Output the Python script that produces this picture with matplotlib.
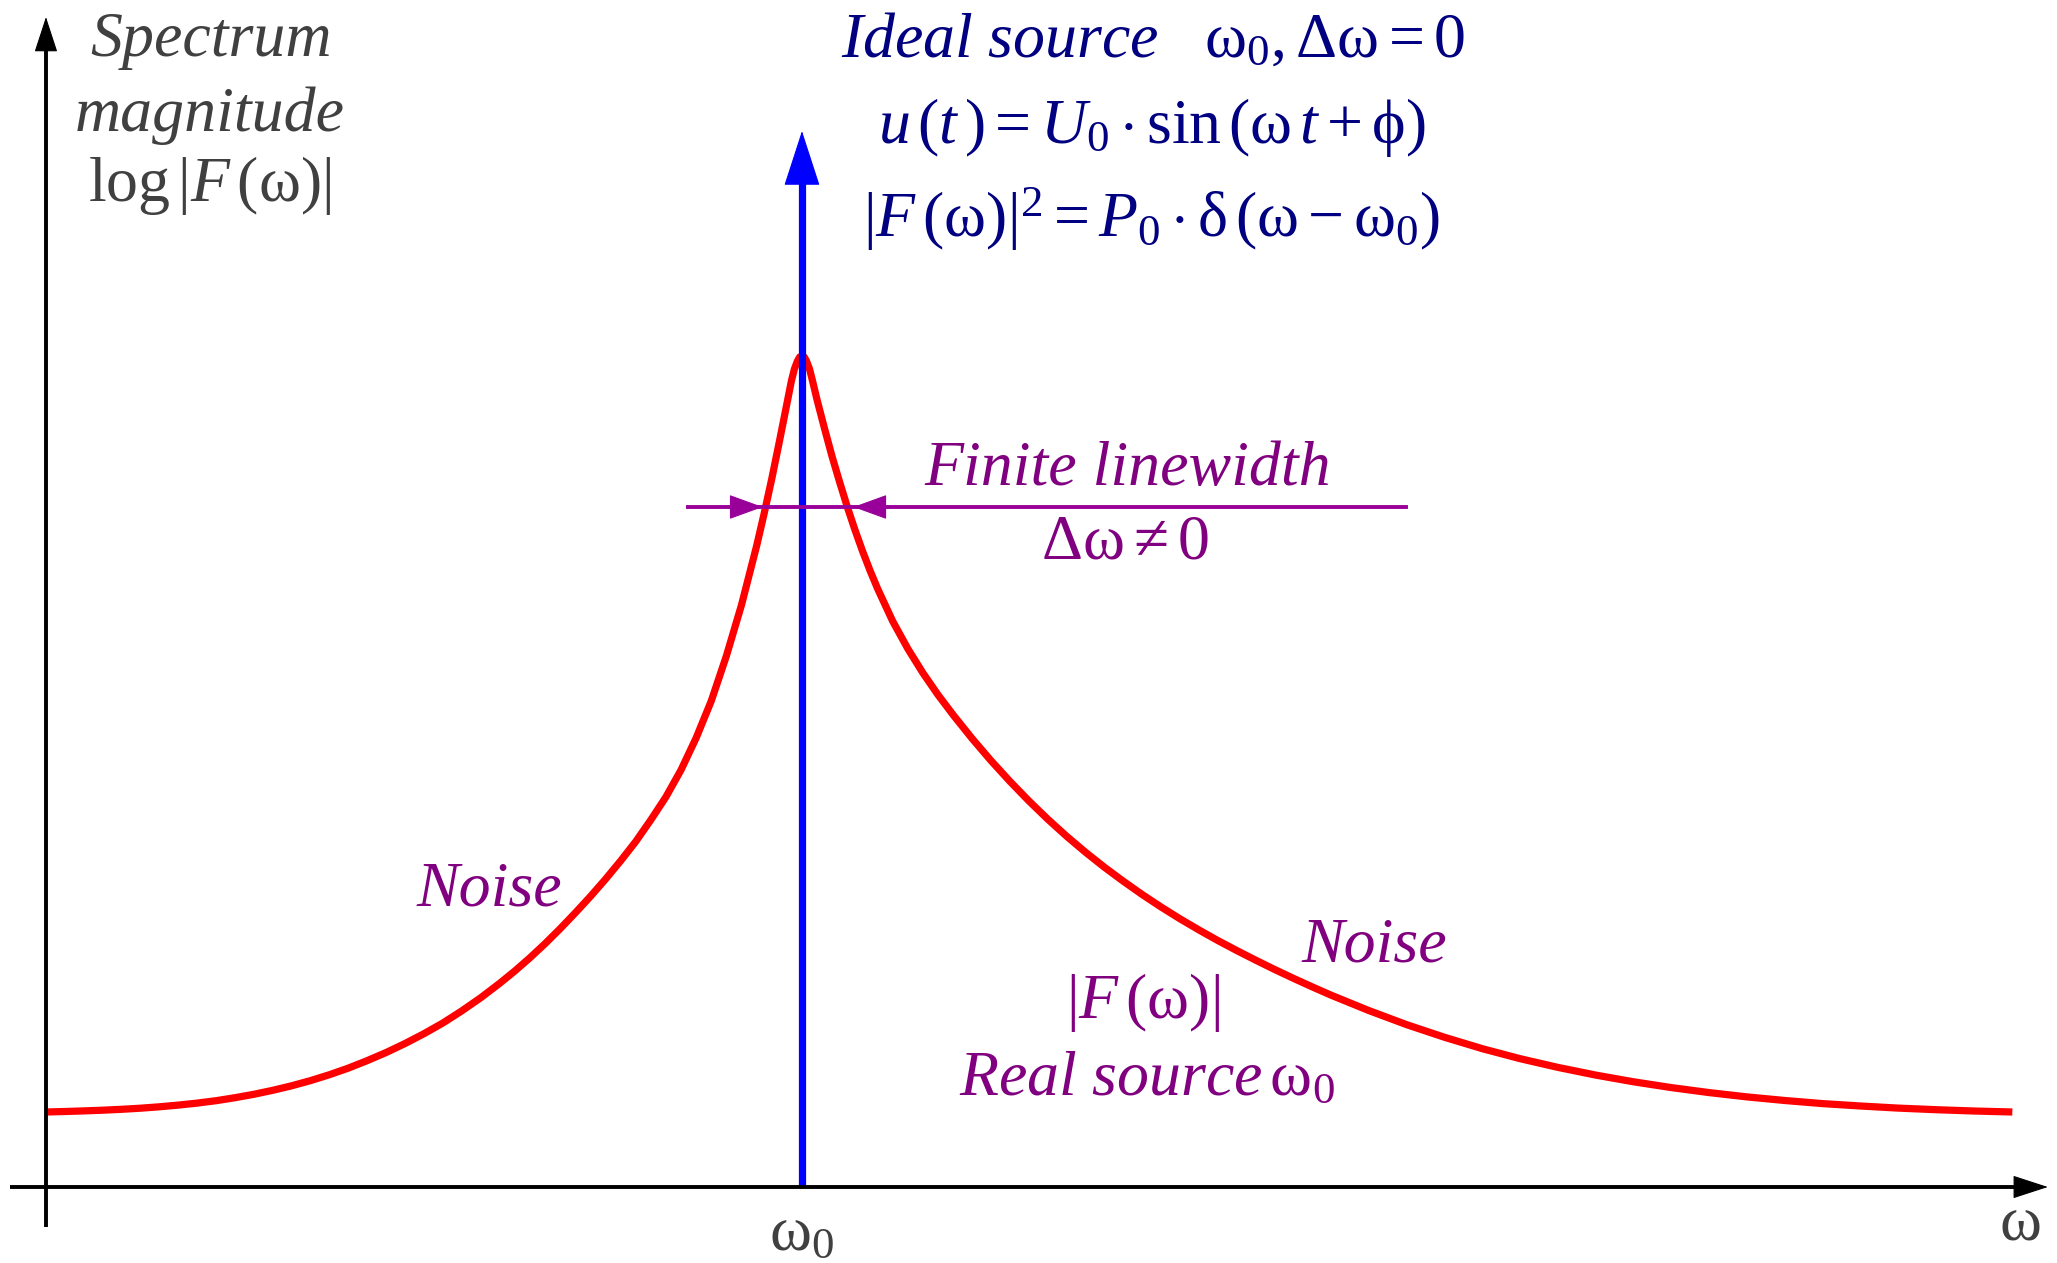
import matplotlib
matplotlib.use("Agg")
import matplotlib.pyplot as plt

# Spectrum of a real source around w0: frequency in units of w0, log-magnitude in arbitrary units
omega = [0.000, 0.025, 0.050, 0.075, 0.100, 0.125, 0.150, 0.175, 0.200, 0.225,
         0.250, 0.275, 0.300, 0.325, 0.350, 0.375, 0.400, 0.425, 0.450, 0.475,
         0.500, 0.525, 0.550, 0.575, 0.600, 0.620, 0.640, 0.660, 0.680, 0.700,
         0.720, 0.740, 0.760, 0.780, 0.800, 0.820, 0.840, 0.860, 0.880, 0.900,
         0.920, 0.940, 0.950, 0.960, 0.970, 0.980, 0.986, 0.990, 0.994, 0.997,
         1.000,
         1.003, 1.006, 1.010, 1.014, 1.020, 1.030, 1.040, 1.050, 1.060, 1.070,
         1.080, 1.090, 1.100, 1.120, 1.140, 1.160, 1.180, 1.200, 1.225, 1.250,
         1.275, 1.300, 1.325, 1.350, 1.375, 1.400, 1.425, 1.450, 1.475, 1.500,
         1.525, 1.550, 1.575, 1.600, 1.625, 1.650, 1.675, 1.700, 1.750, 1.800,
         1.850, 1.900, 1.950, 2.000, 2.050, 2.100, 2.150, 2.200, 2.250, 2.300,
         2.350, 2.400, 2.450, 2.500, 2.550, 2.601]
log_mag = [0.750, 0.755, 0.761, 0.768, 0.777, 0.788, 0.802, 0.819, 0.839, 0.863,
           0.893, 0.927, 0.967, 1.012, 1.064, 1.123, 1.189, 1.264, 1.345, 1.435,
           1.533, 1.640, 1.761, 1.892, 2.036, 2.159, 2.291, 2.432, 2.582, 2.740,
           2.904, 3.077, 3.260, 3.453, 3.670, 3.900, 4.170, 4.490, 4.860, 5.310,
           5.820, 6.410, 6.735, 7.080, 7.450, 7.830, 8.060, 8.180, 8.260, 8.300,
           8.310,
           8.300, 8.260, 8.180, 8.060, 7.870, 7.580, 7.300, 7.045, 6.800, 6.573,
           6.361, 6.165, 5.984, 5.658, 5.383, 5.140, 4.921, 4.721, 4.485, 4.264,
           4.057, 3.862, 3.679, 3.508, 3.348, 3.198, 3.058, 2.925, 2.800, 2.682,
           2.571, 2.465, 2.365, 2.269, 2.176, 2.087, 2.001, 1.918, 1.764, 1.623,
           1.497, 1.383, 1.283, 1.196, 1.119, 1.052, 0.994, 0.944, 0.901, 0.865,
           0.834, 0.810, 0.789, 0.773, 0.760, 0.750]

omega_0 = 1.0            # ideal source line position
ideal_height = 10.56     # tip of the delta-function arrow
linewidth_level = 6.80   # level where the linewidth is marked
linewidth_left = 0.948   # left arrow tip
linewidth_right = 1.068  # right arrow tip

plt.rcParams["mathtext.fontset"] = "custom"
plt.rcParams["mathtext.rm"] = "Liberation Serif"
plt.rcParams["mathtext.it"] = "Liberation Serif:italic"
plt.rcParams["mathtext.bf"] = "Liberation Serif:bold"
plt.rcParams["font.family"] = ["Liberation Serif", "DejaVu Serif"]

NAVY = "#000080"
PURPLE = "#800080"
PURPLE_LINE = "#990099"
GRAY = "#404040"

fig = plt.figure(figsize=(20.57, 12.63), dpi=100)
ax = fig.add_axes([0, 0, 1, 1])
ax.set_xlim(-0.0608, 2.6601)
ax.set_ylim(-0.76, 11.87)
ax.axis("off")


def head(tip, base, color, hl, hw):
    ax.annotate("", xy=tip, xytext=base,
                arrowprops=dict(arrowstyle=f"-|>,head_length={hl},head_width={hw}",
                                mutation_scale=10, lw=0.8, color=color,
                                shrinkA=0, shrinkB=0),
                zorder=6)


# coordinate axes
ax.plot([-0.0476, 2.606], [0, 0], color="black", lw=2.8, zorder=5, solid_capstyle="butt")
head((2.648, 0), (2.60, 0), "black", 2.3, 0.75)
ax.plot([0, 0], [-0.40, 11.40], color="black", lw=2.8, zorder=5, solid_capstyle="butt")
head((0, 11.70), (0, 11.30), "black", 2.3, 0.75)

# real source spectrum
ax.plot(omega, log_mag, color="#ff0000", lw=5.2, zorder=2,
        solid_joinstyle="round", solid_capstyle="butt")

# ideal source: delta function
ax.plot([omega_0, omega_0], [0, ideal_height - 0.50], color="#0000ff", lw=5.2,
        zorder=3, solid_capstyle="butt")
head((omega_0, ideal_height), (omega_0, ideal_height - 0.6), "#0000ff", 3.7, 1.2)

# finite linewidth marker
ax.plot([0.849, 1.799], [linewidth_level, linewidth_level], color=PURPLE_LINE,
        lw=2.8, zorder=4)
head((linewidth_left, linewidth_level), (linewidth_left - 0.045, linewidth_level),
     PURPLE_LINE, 2.2, 0.8)
head((linewidth_right, linewidth_level), (linewidth_right + 0.045, linewidth_level),
     PURPLE_LINE, 2.2, 0.8)

# labels
fs = 46
ax.text(0.218, 11.46, "Spectrum", style="italic", color=GRAY, fontsize=fs,
        ha="center", va="center")
ax.text(0.217, 10.71, "magnitude", style="italic", color=GRAY, fontsize=fs,
        ha="center", va="center")
ax.text(0.217, 10.01, r"$\mathrm{log}\,|F\,(\mathrm{\omega})|$", color=GRAY,
        fontsize=fs, ha="center", va="center")

ax.text(1.464, 11.45,
        r"$\mathit{Ideal\ source}\quad\mathrm{\omega}_0,\mathrm{\Delta\omega}=0$",
        color=NAVY, fontsize=fs, ha="center", va="center")
ax.text(1.463, 10.59,
        r"$u\,(t\,)=U_0\cdot\mathrm{sin}\,(\mathrm{\omega}\,t+\mathrm{\phi})$",
        color=NAVY, fontsize=fs, ha="center", va="center")
ax.text(1.462, 9.68,
        r"$|F\,(\mathrm{\omega})|^2=P_0\cdot\mathrm{\delta}\,(\mathrm{\omega}-\mathrm{\omega}_0)$",
        color=NAVY, fontsize=fs, ha="center", va="center")

ax.text(1.431, 7.17, "Finite linewidth", style="italic", color=PURPLE, fontsize=fs,
        ha="center", va="center")
ax.text(1.427, 6.43, r"$\mathrm{\Delta\omega}\neq 0$", color=PURPLE, fontsize=fs,
        ha="center", va="center")

ax.text(0.586, 2.97, "Noise", style="italic", color=PURPLE, fontsize=fs,
        ha="center", va="center")
ax.text(1.757, 2.40, "Noise", style="italic", color=PURPLE, fontsize=fs,
        ha="center", va="center")
ax.text(1.451, 1.85, r"$|F\,(\mathrm{\omega})|$", color=PURPLE, fontsize=fs,
        ha="center", va="center")
ax.text(1.456, 1.07, r"$\mathit{Real\ source}\,\mathrm{\omega}_0$", color=PURPLE,
        fontsize=fs, ha="center", va="center")

ax.text(omega_0, -0.48, r"$\mathrm{\omega}_0$", color=GRAY, fontsize=fs,
        ha="center", va="center")
ax.text(2.611, -0.38, r"$\mathrm{\omega}$", color=GRAY, fontsize=fs,
        ha="center", va="center")

fig.savefig("out.png", dpi=100, facecolor="white")
